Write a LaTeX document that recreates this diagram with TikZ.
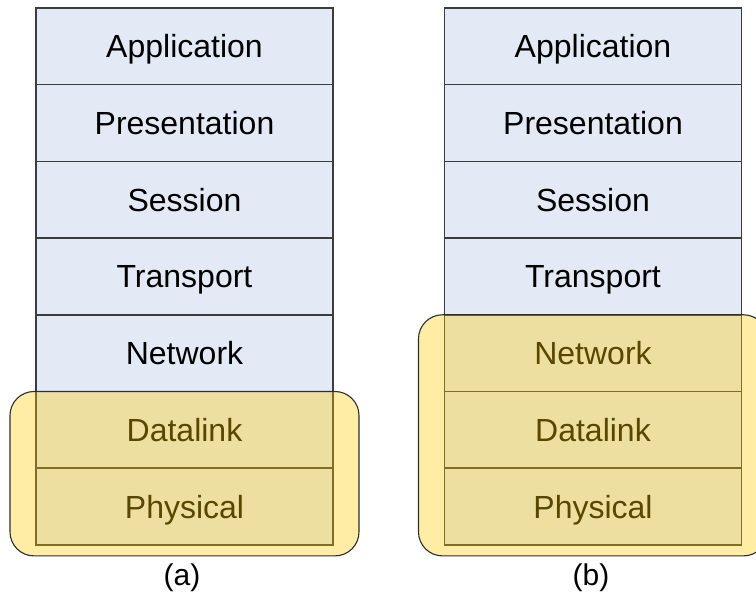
\documentclass[tikz,border=0pt]{standalone}
\usepackage{fontspec}
\setmainfont{Liberation Sans}
\begin{document}
\begin{tikzpicture}[x=1pt,y=-1pt,
  layer/.style={draw=layerline, line width=1.5pt, fill=layerfill,
    minimum width=297pt, minimum height=76.7pt, inner sep=0pt, outer sep=0pt,
    text height=23pt, text depth=0pt,
    font=\fontsize{32}{38}\selectfont, anchor=north},
  group/.style={draw=groupline, line width=1.1pt, fill=groupfill,
    fill opacity=0.35, draw opacity=1, rounded corners=24pt},
  caption/.style={font=\fontsize{30}{36}\selectfont, anchor=center}]
\definecolor{layerfill}{HTML}{E3EAF6}
\definecolor{layerline}{HTML}{3C3C3C}
\definecolor{groupfill}{HTML}{FFCC00}
\definecolor{groupline}{HTML}{2E2E2E}
\useasboundingbox (0,0) rectangle (756,596);
\clip (0,0) rectangle (756,596);
\fill[white] (0,0) rectangle (756,596);

% Stack (a)
\node[layer] (a1) at (184.5,8) {Application};
\node[layer] (a2) at (a1.south) {Presentation};
\node[layer] (a3) at (a2.south) {Session};
\node[layer] (a4) at (a3.south) {Transport};
\node[layer] (a5) at (a4.south) {Network};
\node[layer] (a6) at (a5.south) {Datalink};
\node[layer] (a7) at (a6.south) {Physical};

% Stack (b)
\node[layer] (b1) at (593,8) {Application};
\node[layer] (b2) at (b1.south) {Presentation};
\node[layer] (b3) at (b2.south) {Session};
\node[layer] (b4) at (b3.south) {Transport};
\node[layer] (b5) at (b4.south) {Network};
\node[layer] (b6) at (b5.south) {Datalink};
\node[layer] (b7) at (b6.south) {Physical};

% Highlighted lower layers
\draw[group] ([xshift=-26pt]a6.north west) rectangle ([xshift=26pt,yshift=-11pt]a7.south east);
\draw[group] ([xshift=-26pt]b5.north west) rectangle ([xshift=26pt,yshift=-11pt]b7.south east);

% Captions
\node[caption] (capa) at (182,578) {(a)};
\node[caption] (capb) at (591,578) {(b)};
\end{tikzpicture}
\end{document}
